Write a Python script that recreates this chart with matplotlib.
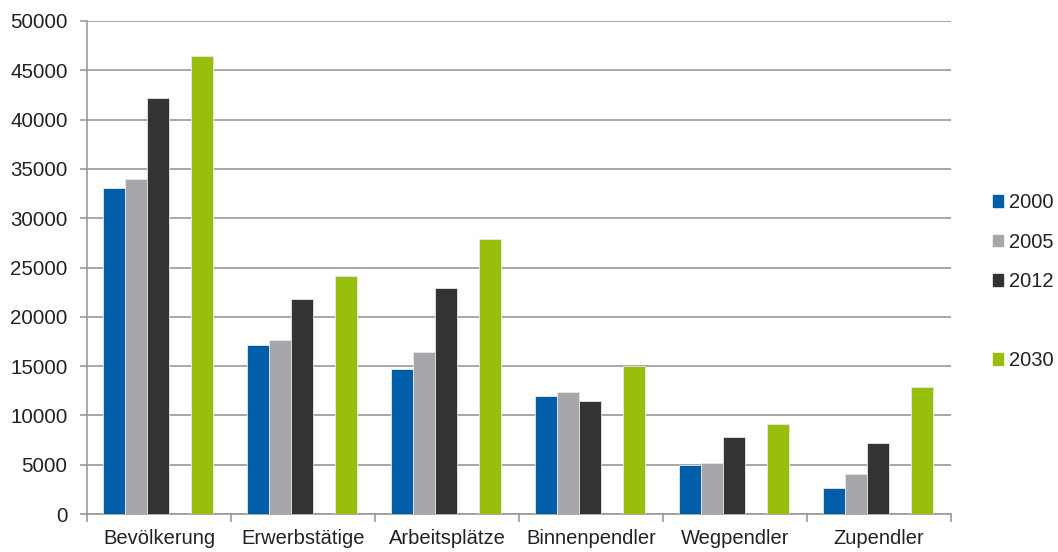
import numpy as np
import matplotlib.pyplot as plt
from matplotlib.patches import Patch

plt.rcParams['font.family'] = ['Liberation Sans', 'DejaVu Sans']

# categories and values
categories = ['Bevölkerung', 'Erwerbstätige', 'Arbeitsplätze',
              'Binnenpendler', 'Wegpendler', 'Zupendler']
years = ['2000', '2005', '2012', '2030']
v2000 = [33100, 17100, 14700, 12000, 4950, 2650]
v2005 = [34000, 17600, 16400, 12400, 5200, 4050]
v2012 = [42200, 21850, 22900, 11450, 7800, 7200]
v2030 = [46450, 24100, 27850, 15000, 9100, 12900]

colors = ['#005DA9', '#A5A7AA', '#333333', '#97BD0D']
series = [v2000, v2005, v2012, v2030]
slots = [0, 1, 2, 4]  # slot 3 stays empty

fig = plt.figure(figsize=(10.58, 5.52), dpi=100)
ax = fig.add_axes([87/1058, 38/552, (951-87)/1058, (514-21)/552])

x = np.arange(len(categories))
w = 1 / 6.5
for vals, col, s, lab in zip(series, colors, slots, years):
    ax.bar(x - 0.5 + w * 0.7 + w * (s + 0.5), vals, width=w, color=col,
           edgecolor='#E8E8E8', linewidth=0.6, label=lab, zorder=3)

ax.set_xlim(-0.5, len(categories) - 0.5)
ax.set_ylim(0, 50000)
ax.set_yticks(np.arange(0, 50001, 5000))
ax.yaxis.grid(True, color='#A0A0A0', linewidth=1.3, zorder=0)
ax.set_xticks(x)
ax.set_xticklabels(categories)
ax.set_xticks(np.arange(-0.5, len(categories)), minor=True)
ax.tick_params(axis='x', which='major', length=0, pad=11, labelsize=14.5,
               labelcolor='#222222')
ax.tick_params(axis='x', which='minor', length=6, color='#999999', width=1.2)
ax.tick_params(axis='y', length=5, color='#999999', width=1.2, pad=9,
               labelsize=14.8, labelcolor='#222222')
for sp in ['top', 'right']:
    ax.spines[sp].set_visible(False)
for sp in ['left', 'bottom']:
    ax.spines[sp].set_color('#999999')
    ax.spines[sp].set_linewidth(1.2)

handles = [Patch(color=colors[0]), Patch(color=colors[1]), Patch(color=colors[2]),
           Patch(color='none'), Patch(color=colors[3])]
labels = ['2000', '2005', '2012', ' ', '2030']
fig.legend(handles, labels, loc='upper left', bbox_to_anchor=(993/1058, 1 - 193/552),
           frameon=False, fontsize=14.5, handlelength=0.5, handleheight=0.5,
           handletextpad=0.3, labelspacing=1.02, borderpad=0, borderaxespad=0,
           labelcolor='#222222')

fig.savefig('out.png', dpi=100)
